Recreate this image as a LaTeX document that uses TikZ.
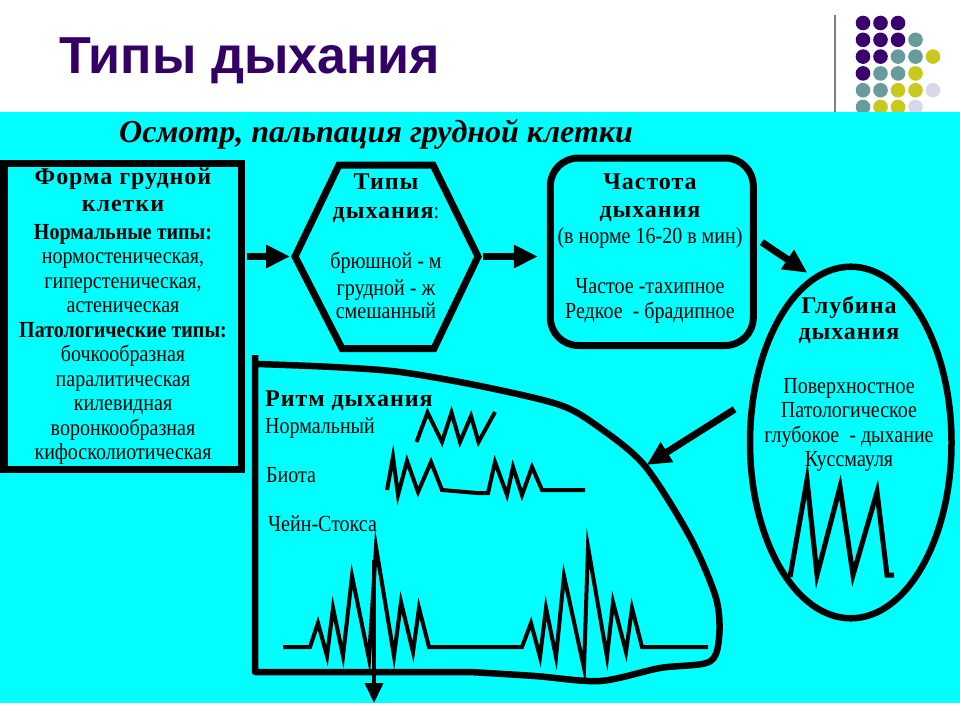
\documentclass[tikz,border=0pt]{standalone}
\usepackage{fontspec}
\setmainfont{Liberation Serif}[FakeStretch=0.87]
\newfontfamily\titlefont{Liberation Sans}
\newfontfamily\examfont{Liberation Serif}
\newfontfamily\headfont[LetterSpace=4]{Liberation Serif}
\usetikzlibrary{arrows.meta,shapes.geometric}
\definecolor{sky}{RGB}{0,255,255}
\definecolor{titleink}{RGB}{51,0,102}
\definecolor{dotA}{RGB}{58,0,110}
\definecolor{dotB}{RGB}{104,156,156}
\definecolor{dotC}{RGB}{200,200,30}
\definecolor{dotD}{RGB}{216,216,234}
\newcommand{\bodysize}{\fontsize{23}{24.5}\selectfont}
\newcommand{\hd}[1]{{\fontsize{24}{24.5}\selectfont\headfont\bfseries #1}}
\begin{document}
\begin{tikzpicture}[x=1pt, y=-1pt,
    frame/.style={draw=black, line width=7pt, inner sep=0pt},
    txt/.style={align=center, inner sep=0pt, font=\bodysize},
    lbl/.style={anchor=base west, inner sep=0pt, font=\bodysize},
    fatarrow/.style={line width=7pt, -{Triangle[length=24pt, width=22pt]}},
    wave/.style={line width=4pt}]
  \useasboundingbox (0,0) rectangle (960,720);
  \fill[white] (0,0) rectangle (960,720);

  % corner dots
  \foreach \dotrow [count=\r from 0] in {{dotA,dotA,dotA},{dotA,dotA,dotA,dotB},{dotA,dotA,dotB,dotB,dotC},{dotA,dotB,dotB,dotC},{dotB,dotB,dotC,dotC,dotD},{dotB,dotC,dotC,dotD}}
    \foreach \dotcol [count=\c from 0] in \dotrow
      \fill[\dotcol] (863+17.5*\c, 23+16.8*\r) circle[radius=7.3pt];
  \draw[gray, line width=1.5pt] (835,15) -- (835,112);

  \node[anchor=base west, inner sep=0pt, text=titleink, font=\titlefont\bfseries\fontsize{52}{60}\selectfont] (title) at (59,73) {Типы дыхания};

  \fill[sky] (0,112) rectangle (960,703);
  \node[anchor=base west, inner sep=0pt, font=\examfont\bfseries\itshape\fontsize{32}{36}\selectfont] (exam) at (119,142) {Осмотр, пальпация грудной клетки};

  % chest shape
  \node[frame, minimum width=237.5pt, minimum height=306pt] (formbox) at (122.75,316.5) {};
  \node[txt] (formtext) at (123,316.5) {\hd{Форма грудной}\\[2.5pt]
    \hd{клетки}\\[3pt]
    \textbf{Нормальные типы:}\\
    нормостеническая,\\
    гиперстеническая,\\
    астеническая\\
    \textbf{Патологические типы:}\\
    бочкообразная\\
    паралитическая\\
    килевидная\\
    воронкообразная\\
    кифосколиотическая};

  % breathing types
  \coordinate (hexL) at (295,256.5);
  \coordinate (hexR) at (478,256.5);
  \draw[frame] (hexL) -- (339,165) -- (433,165) -- (hexR) -- (434,348.5) -- (342,348.5) -- cycle;
  \node[txt] (hextext) at (386,246) {\hd{Типы}\\[4.5pt]
    \hd{дыхания}:\\[25pt]
    брюшной - м\\[2.5pt]
    грудной - ж\\[-1.5pt]
    смешанный};

  % rate
  \node[frame, rounded corners=28pt, minimum width=203pt, minimum height=187.5pt] (freqbox) at (651.8,251.75) {};
  \node[txt] (freqtext) at (650,248.6) {\hd{Частота}\\[3.5pt]
    \hd{дыхания}\\[1.5pt]
    (в норме 16-20 в мин)\\[25.5pt]
    Частое -тахипное\\
    Редкое~~- брадипное};

  % depth
  \node[draw, ellipse, line width=6.5pt, inner sep=0pt, minimum width=201.5pt, minimum height=351.6pt] (depthbox) at (850.75,442.5) {};
  \node[txt] (depthtext) at (849,384) {\hd{Глубина}\\[1.5pt]
    \hd{дыхания}\\[29.5pt]
    Поверхностное\\
    Патологическое\\
    глубокое~~- дыхание\\
    Куссмауля};
  \draw[line width=5pt] (790,577) -- (807,480) -- (817,575) -- (840,487) -- (853,575) -- (877,492) -- (887,575) -- (894,575);

  % rhythm
  \coordinate (rhythmrim) at (645,466);
  \draw[line width=6.5pt, line join=round] plot[smooth, tension=0.5] coordinates {(258,364) (333,367) (400,372) (480,386) (560,405) (600,428) (rhythmrim) (690,537) (716,598) (719,638) (709,662) (660,668) (600,681) (535,676) (470,672)} -- (255,672) -- (255,355);
  \node[lbl, font=\fontsize{24}{24.5}\selectfont\headfont\bfseries] (rhythmhead) at (265,406) {Ритм дыхания};
  \node[lbl] (normlbl) at (265,433) {Нормальный};
  \node[lbl] (biotlbl) at (266,482) {Биота};
  \node[lbl] (cslbl) at (268,531) {Чейн-Стокса};
  \draw[wave] (416.5,442) -- (427.5,412.5) -- (442,442) -- (451.5,412.5) -- (460,442) -- (471,416) -- (478.5,442) -- (495,412);
  \draw[wave] (387,490) -- (393,457) -- (398,495) -- (407,461) -- (418,492) -- (431,462) -- (442,490) -- (477,493) -- (488,493) -- (495,462) -- (507,495) -- (513,467) -- (522,495) -- (532,467) -- (542,490) -- (585,490);
  \draw[wave] (283,647) -- (310,647) -- (318,623) -- (327,656) -- (333,608) -- (343,656) -- (352,576) -- (369,659) -- (376,547) -- (394,656) -- (401,602) -- (413,652) -- (419,608) -- (429,647) -- (522,647) -- (531,623) -- (540,657) -- (546,608) -- (556,657) -- (564,576) -- (584,668) -- (588,547) -- (607,657) -- (613,602) -- (626,652) -- (632,608) -- (642,647) -- (708,647);
  \coordinate (cspeak) at (374,560);
  \coordinate (csout) at (374,703);
  \draw[line width=4pt, -{Triangle[length=20pt, width=18pt]}] (cspeak) -- (csout);

  % links
  \draw[fatarrow, shorten <=2pt, shorten >=5pt] (formbox.east |- hexL) -- (hexL);
  \draw[fatarrow, shorten <=5pt, shorten >=9pt] (hexR) -- (freqbox.west |- hexR);
  \draw[fatarrow, shorten <=6pt, shorten >=6pt] (freqbox.7) -- (depthbox.103);
  \draw[fatarrow, shorten <=18pt, shorten >=2pt] (depthbox.157) -- (rhythmrim);
\end{tikzpicture}
\end{document}
